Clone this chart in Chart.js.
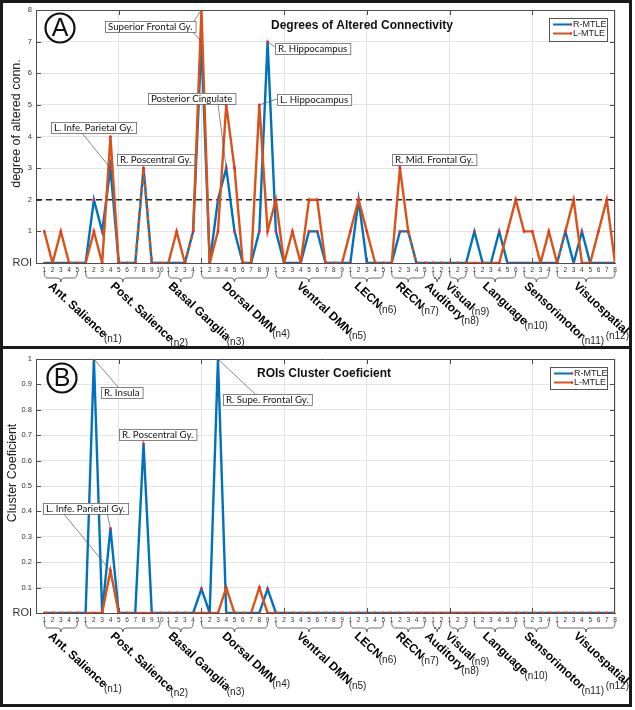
<!DOCTYPE html>
<html>
<head>
<meta charset="utf-8">
<script src="https://cdn.jsdelivr.net/npm/chart.js@4.4.1/dist/chart.umd.min.js"></script>
<style>
  html, body { margin: 0; padding: 0; background: #fff; }
  #fig { position: relative; width: 635px; height: 710px; overflow: hidden; }
  #fig canvas { position: absolute; left: 0; }
  .rule { position: absolute; background: #1a1a1a; }
</style>
</head>
<body>
<div id="fig">
  <canvas id="degrees" width="635" height="346" style="top:0"></canvas>
  <canvas id="cluster" width="635" height="355" style="top:350px"></canvas>
  <div class="rule" style="left:0;top:0;width:632px;height:3px"></div>
  <div class="rule" style="left:0;top:0;width:3px;height:707px"></div>
  <div class="rule" style="left:629px;top:0;width:3px;height:707px"></div>
  <div class="rule" style="left:0;top:704px;width:632px;height:3px"></div>
  <div class="rule" style="left:0;top:346px;width:632px;height:3px"></div>
</div>
<script>
const FONT = `"Liberation Sans", Arial, sans-serif`;
const NOTE_FONT = `9.7px Lato, "Liberation Sans", sans-serif`;
const BLUE = `#0072BD`;
const ORANGE = `#D95319`;
const MARK = `#ff2020`;
const GRID = `#e3e3e3`;
const AXIS = `#4d4d4d`;

// networks along the x axis
const groupNames = [`Ant. Salience`, `Post. Salience`, `Basal Ganglia`, `Dorsal DMN`, `Ventral DMN`,
  `LECN`, `RECN`, `Auditory`, `Visual`, `Language`, `Sensorimotor`, `Visuospatial`];
const groupTags = [`(n1)`, `(n2)`, `(n3)`, `(n4)`, `(n5)`, `(n6)`, `(n7)`, `(n8)`, `(n9)`, `(n10)`, `(n11)`, `(n12)`];
const groupSizes = [5, 10, 4, 9, 9, 5, 5, 2, 3, 6, 4, 8];

// panel A - degree of altered connectivity (one value per ROI)
const degreeR = [
  0, 0, 0, 0, 0,
  0, 2, 1, 3, 0, 0, 0, 3, 0, 0,
  0, 0, 0, 1,
  7, 0, 2, 3, 1, 0, 0, 1, 7,
  1, 0, 0, 0, 1, 1, 0, 0, 0,
  0, 2, 0, 0, 0,
  0, 1, 1, 0, 0,
  0, 0,
  0, 0, 0,
  1, 0, 0, 1, 0, 0,
  0, 0, 0, 0,
  0, 1, 0, 1, 0, 0, 0, 0,
];
const degreeL = [
  1, 0, 1, 0, 0,
  0, 1, 0, 4, 0, 0, 0, 3, 0, 0,
  0, 1, 0, 1,
  8, 0, 1, 5, 3, 0, 0, 5, 1,
  2, 0, 1, 0, 2, 2, 0, 0, 0,
  1, 2, 1, 0, 0,
  0, 3, 1, 0, 0,
  0, 0,
  0, 0, 0,
  0, 0, 0, 0, 1, 2,
  1, 1, 0, 1,
  0, 1, 2, 0, 0, 1, 2, 0,
];

// panel B - cluster coefficient
const clusterR = [
  0, 0, 0, 0, 0,
  0, 1, 0, 0.333, 0, 0, 0, 0.667, 0, 0,
  0, 0, 0, 0,
  0.095, 0, 1, 0, 0, 0, 0, 0, 0.095,
  0, 0, 0, 0, 0, 0, 0, 0, 0,
  0, 0, 0, 0, 0,
  0, 0, 0, 0, 0,
  0, 0,
  0, 0, 0,
  0, 0, 0, 0, 0, 0,
  0, 0, 0, 0,
  0, 0, 0, 0, 0, 0, 0, 0,
];
const clusterL = [
  0, 0, 0, 0, 0,
  0, 0, 0, 0.167, 0, 0, 0, 0, 0, 0,
  0, 0, 0, 0,
  0, 0, 0, 0.1, 0, 0, 0, 0.1, 0,
  0, 0, 0, 0, 0, 0, 0, 0, 0,
  0, 0, 0, 0, 0,
  0, 0, 0, 0, 0,
  0, 0,
  0, 0, 0,
  0, 0, 0, 0, 0, 0,
  0, 0, 0, 0,
  0, 0, 0, 0, 0, 0, 0, 0,
];

const roiIndex = [];
const roiLocal = [];
const groupSpan = [];
let count = 0;
groupSizes.forEach((size) => {
  const first = count + 1;
  for (let k = 1; k <= size; k++) {
    count++;
    roiIndex.push(count);
    roiLocal.push(k);
  }
  groupSpan.push([first, count]);
});

const toPoints = (arr) => arr.map((y, k) => ({x: roiIndex[k], y}));

const makeDatasets = (r, l) => [
  {
    label: `R-MTLE`, data: toPoints(r), borderColor: BLUE, borderWidth: 2.4,
    pointRadius: 1.3, pointBackgroundColor: MARK, pointBorderWidth: 0, order: 2,
  },
  {
    label: `L-MTLE`, data: toPoints(l), borderColor: ORANGE, borderWidth: 2.4,
    pointRadius: 1.3, pointBackgroundColor: MARK, pointBorderWidth: 0, order: 1,
    segment: {
      // where both series share a segment show the blue one through a dash
      borderDash: (ctx) => (r[ctx.p0DataIndex] === l[ctx.p0DataIndex] &&
        r[ctx.p1DataIndex] === l[ctx.p1DataIndex]) ? [4, 4] : undefined,
    },
  },
];

const decor = (cfg) => ({
  id: `decor`,
  beforeDatasetsDraw(chart) {
    const {ctx, chartArea: a, scales: {x, y}} = chart;
    ctx.save();
    ctx.strokeStyle = AXIS;
    ctx.lineWidth = 1;
    ctx.beginPath();
    ctx.moveTo(a.left, a.top + 0.5);
    ctx.lineTo(a.right, a.top + 0.5);
    ctx.moveTo(a.right - 0.5, a.top);
    ctx.lineTo(a.right - 0.5, a.bottom);
    for (let v = 10; v < 70; v += 10) {
      const px = Math.round(x.getPixelForValue(v)) + 0.5;
      ctx.moveTo(px, a.top);
      ctx.lineTo(px, a.top + 5);
      ctx.moveTo(px, a.bottom);
      ctx.lineTo(px, a.bottom - 5);
    }
    y.ticks.forEach((t) => {
      const py = Math.round(y.getPixelForValue(t.value)) + 0.5;
      ctx.moveTo(a.right, py);
      ctx.lineTo(a.right - 5, py);
      ctx.moveTo(a.left, py);
      ctx.lineTo(a.left + 5, py);
    });
    ctx.stroke();

    if (cfg.refLine !== undefined) {
      const py = y.getPixelForValue(cfg.refLine);
      ctx.strokeStyle = `#222`;
      ctx.lineWidth = 1.3;
      ctx.setLineDash([6, 4]);
      ctx.beginPath();
      ctx.moveTo(a.left, py);
      ctx.lineTo(a.right, py);
      ctx.stroke();
    }
    ctx.restore();
  },

  afterDatasetsDraw(chart) {
    const {ctx} = chart;
    ctx.save();

    // leader lines, then the label boxes
    ctx.strokeStyle = `#555`;
    ctx.lineWidth = 0.7;
    cfg.notes.forEach((note) => {
      note.leaders.forEach((ld) => {
        const pt = chart.getDatasetMeta(ld.set).data[ld.roi - 1];
        ctx.beginPath();
        ctx.moveTo(ld.from[0], ld.from[1]);
        ctx.lineTo(pt.x, pt.y);
        ctx.stroke();
      });
    });
    ctx.font = NOTE_FONT;
    ctx.textBaseline = `middle`;
    cfg.notes.forEach((note) => {
      const w = ctx.measureText(note.text).width + 6;
      const [bx, by] = note.box;
      ctx.fillStyle = `#fff`;
      ctx.fillRect(bx, by, w, 11);
      ctx.strokeStyle = `#666`;
      ctx.lineWidth = 0.8;
      ctx.strokeRect(bx + 0.5, by + 0.5, w, 11);
      ctx.fillStyle = `#111`;
      ctx.fillText(note.text, bx + 3, by + 6);
    });

    // legend
    const [lx, ly, lw, lh] = cfg.legend;
    ctx.fillStyle = `#fff`;
    ctx.fillRect(lx, ly, lw, lh);
    ctx.strokeStyle = `#555`;
    ctx.lineWidth = 1;
    ctx.strokeRect(lx + 0.5, ly + 0.5, lw, lh);
    ctx.font = `9px ${FONT}`;
    chart.data.datasets.forEach((ds, k) => {
      const yy = ly + 6.5 + k * 9;
      ctx.strokeStyle = ds.borderColor;
      ctx.lineWidth = 2;
      ctx.beginPath();
      ctx.moveTo(lx + 4, yy);
      ctx.lineTo(lx + 23, yy);
      ctx.stroke();
      ctx.fillStyle = MARK;
      ctx.fillRect(lx + 21, yy - 1, 2, 2);
      ctx.fillStyle = `#222`;
      ctx.textAlign = `left`;
      ctx.fillText(ds.label, lx + 24, yy + 0.5);
    });

    // title
    ctx.font = `bold 12px ${FONT}`;
    ctx.fillStyle = `#111`;
    ctx.textAlign = `center`;
    ctx.fillText(cfg.title, cfg.titlePos[0], cfg.titlePos[1]);

    // panel letter
    const [cx, cy] = cfg.letterPos;
    ctx.strokeStyle = `#111`;
    ctx.lineWidth = 2.2;
    ctx.beginPath();
    ctx.arc(cx, cy, 14.5, 0, Math.PI * 2);
    ctx.stroke();
    ctx.font = `25px ${FONT}`;
    ctx.fillText(cfg.letter, cx, cy + 1);
    ctx.restore();
  },

  afterDraw(chart) {
    const {ctx, chartArea: a, scales: {x}} = chart;
    const base = a.bottom;
    const ang = 43 * Math.PI / 180;
    ctx.save();
    groupSpan.forEach(([first, last], g) => {
      const x0 = x.getPixelForValue(first);
      const x1 = x.getPixelForValue(last);
      const mid = (x0 + x1) / 2;
      const yt = base + 9;
      const ym = base + 15;
      const yb = base + 19;
      ctx.strokeStyle = `#444`;
      ctx.lineWidth = 0.8;
      ctx.beginPath();
      ctx.moveTo(x0, yt);
      ctx.quadraticCurveTo(x0, ym, x0 + 3, ym);
      ctx.lineTo(mid - 3, ym);
      ctx.quadraticCurveTo(mid, ym, mid, yb);
      ctx.quadraticCurveTo(mid, ym, mid + 3, ym);
      ctx.lineTo(x1 - 3, ym);
      ctx.quadraticCurveTo(x1, ym, x1, yt);
      ctx.stroke();

      const sx = mid - 13;
      const sy = base + 24;
      ctx.font = `bold 12px ${FONT}`;
      const w = ctx.measureText(groupNames[g]).width;
      ctx.save();
      ctx.translate(sx, sy);
      ctx.rotate(ang);
      ctx.fillStyle = `#000`;
      ctx.textAlign = `left`;
      ctx.textBaseline = `alphabetic`;
      ctx.fillText(groupNames[g], 0, 0);
      ctx.restore();

      ctx.font = `10px ${FONT}`;
      const tw = ctx.measureText(groupTags[g]).width;
      const tx = Math.min(sx + w * Math.cos(ang) + 1, 629 - tw);
      const ty = sy + w * Math.sin(ang) + 1;
      ctx.fillStyle = `#222`;
      ctx.textBaseline = `middle`;
      ctx.fillText(groupTags[g], tx, ty);
    });

    // y axis title
    ctx.save();
    ctx.translate(cfg.yTitleX, (a.top + a.bottom) / 2 - 13);
    ctx.rotate(-Math.PI / 2);
    ctx.font = `12.5px ${FONT}`;
    ctx.fillStyle = `#222`;
    ctx.textAlign = `center`;
    ctx.textBaseline = `middle`;
    ctx.fillText(cfg.yTitle, 0, 0);
    ctx.restore();
    ctx.restore();
  },
});

const makeOptions = (yMax, yStep, padTop, axisHeight) => ({
  responsive: false,
  animation: false,
  devicePixelRatio: 1,
  layout: {padding: {top: padTop, right: 20, left: 0, bottom: 0}},
  plugins: {legend: {display: false}, tooltip: {enabled: false}},
  elements: {line: {tension: 0}},
  scales: {
    x: {
      type: `linear`, min: 0, max: 70,
      afterBuildTicks: (axis) => {
        axis.ticks = roiIndex.map((v) => ({value: v}));
      },
      afterFit: (s) => {
        s.height = axisHeight;
      },
      ticks: {
        autoSkip: false, maxRotation: 0, minRotation: 0, padding: 3, color: `#333`,
        font: {size: 6.5, family: FONT},
        callback: (v) => roiLocal[v - 1],
      },
      grid: {
        drawTicks: false,
        color: (ctx) => (ctx.tick && ctx.tick.value % 10 === 0) ? GRID : `rgba(0,0,0,0)`,
      },
      border: {color: AXIS},
    },
    y: {
      min: 0, max: yMax,
      afterFit: (s) => {
        s.width = 36;
      },
      ticks: {
        stepSize: yStep, padding: 4, color: `#333`,
        font: (ctx) => (ctx.tick && ctx.tick.value === 0) ?
          {size: 11, family: FONT} : {size: 7.5, family: FONT},
        callback: (v) => v === 0 ? `ROI` : String(+v.toFixed(1)),
      },
      grid: {drawTicks: false, color: GRID},
      border: {color: AXIS},
    },
  },
});

new Chart(document.querySelector(`#degrees`), {
  type: `line`,
  data: {datasets: makeDatasets(degreeR, degreeL)},
  options: makeOptions(8, 1, 10, 83),
  plugins: [decor({
    title: `Degrees of Altered Connectivity`, titlePos: [362, 26],
    letter: `A`, letterPos: [60, 28],
    legend: [549, 18, 58, 23],
    yTitle: `degree of altered conn.`, yTitleX: 17,
    refLine: 2,
    notes: [
      {text: `Superior Frontal Gy.`, box: [105, 21], leaders: [
        {from: [192, 24], set: 1, roi: 20}, {from: [192, 31], set: 0, roi: 20}]},
      {text: `R. Hippocampus`, box: [275, 43], leaders: [{from: [275, 47], set: 0, roi: 28}]},
      {text: `Posterior Cingulate`, box: [148, 93], leaders: [
        {from: [218, 104], set: 1, roi: 23}, {from: [218, 104], set: 0, roi: 23}]},
      {text: `L. Hippocampus`, box: [277, 94], leaders: [{from: [277, 99], set: 1, roi: 27}]},
      {text: `L. Infe. Parietal Gy.`, box: [51, 122], leaders: [{from: [82, 133], set: 0, roi: 9}]},
      {text: `R. Poscentral Gy.`, box: [117, 154], leaders: [{from: [143, 165], set: 1, roi: 13}]},
      {text: `R. Mid. Frontal Gy.`, box: [392, 154], leaders: [{from: [398, 165], set: 1, roi: 44}]},
    ],
  })],
});

new Chart(document.querySelector(`#cluster`), {
  type: `line`,
  data: {datasets: makeDatasets(clusterR, clusterL)},
  options: makeOptions(1, 0.1, 9, 92),
  plugins: [decor({
    title: `ROIs Cluster Coeficient`, titlePos: [324, 24],
    letter: `B`, letterPos: [62, 28],
    legend: [550, 17, 57, 22],
    yTitle: `Cluster Coeficient`, yTitleX: 13,
    notes: [
      {text: `R. Insula`, box: [101, 37], leaders: [{from: [118, 37], set: 0, roi: 7}]},
      {text: `R. Supe. Frontal Gy.`, box: [223, 44], leaders: [{from: [255, 44], set: 0, roi: 22}]},
      {text: `R. Poscentral Gy.`, box: [119, 79], leaders: [{from: [143, 89], set: 0, roi: 13}]},
      {text: `L. Infe. Parietal Gy.`, box: [43, 153], leaders: [
        {from: [107, 163], set: 0, roi: 9}, {from: [63, 163], set: 1, roi: 9}]},
    ],
  })],
});
</script>
</body>
</html>
